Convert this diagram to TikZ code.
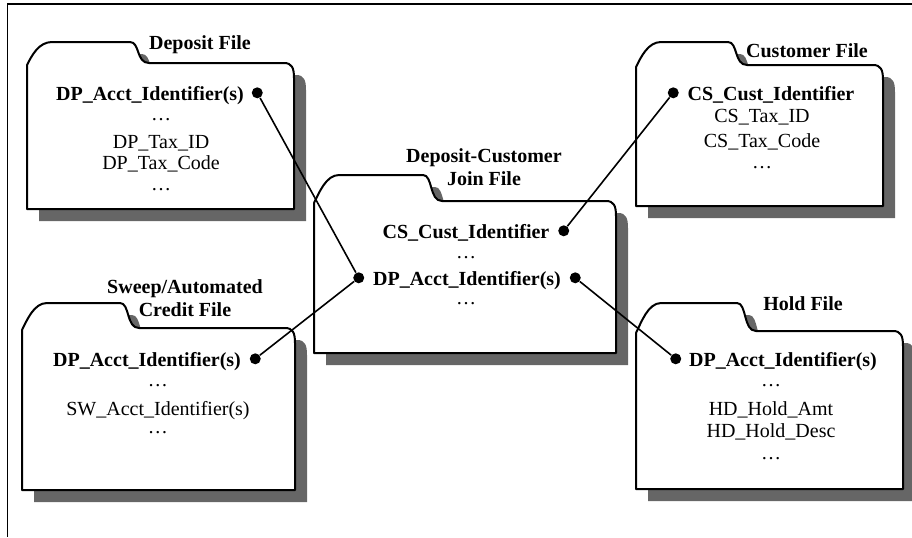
\documentclass[tikz,border=0pt]{standalone}
\usepackage{fontspec}
\setmainfont{Liberation Serif}

% outline of a file folder: left, top, right, bottom, tab end, tab height
\newcommand{\folderoutline}[6]{%
  (#1,#4) -- (#1,#2+2)
  .. controls (#1+5,#2-8) and (#1+12,#2-#6) .. (#1+25,#2-#6)
  -- (#1+#5,#2-#6)
  .. controls (#1+#5+10,#2-#6) and (#1+#5+6,#2) .. (#1+#5+19,#2)
  -- (#3-10,#2)
  .. controls (#3-2,#2) and (#3,#2+5) .. (#3,#2+15)
  -- (#3,#4) -- cycle}
\newcommand{\filefolder}[6]{%
  \fill[folder shadow, shift={(12,12)}] \folderoutline{#1}{#2}{#3}{#4}{#5}{#6};
  \filldraw[folder] \folderoutline{#1}{#2}{#3}{#4}{#5}{#6};}

\begin{document}
\begin{tikzpicture}[x=0.5pt, y=-0.5pt,
  folder/.style={draw=black, fill=white, line width=1pt, line join=round},
  folder shadow/.style={fill=black!60},
  field/.style={anchor=base, inner sep=0pt},
  keyfield/.style={field, font=\bfseries},
  foldertitle/.style={inner sep=0pt, font=\bfseries, align=center},
  dot/.style={circle, fill=black, inner sep=0pt, minimum size=5.5pt},
  link/.style={line width=0.8pt}]

\useasboundingbox (0,0) rectangle (912,537);

% outer frame, only its top and left edges show
\draw[line width=0.9pt] (912,4) -- (7.5,4) -- (7.5,537);

% the five folders
\filefolder{27}{63}{294}{209}{103}{21}     % deposit
\filefolder{314}{201}{616}{353}{109}{26}   % join
\filefolder{636}{65}{883}{206}{92}{23}     % customer
\filefolder{22}{328}{295}{490}{98}{25}     % sweep
\filefolder{636}{331}{903}{489}{101}{28}   % hold

% deposit file
\node[foldertitle, anchor=base] (deptitle) at (200,49) {Deposit File};
\node[keyfield] (depkey) at (150,100) {DP\_Acct\_Identifier(s)};
\foreach \yy/\txt [count=\i] in {120/\ldots, 148/DP\_Tax\_ID, 169/DP\_Tax\_Code, 190/\ldots}
  \node[field] (dep\i) at (161,\yy) {\txt};
\node[dot] (depdot) at ([xshift=6.5pt, yshift=3.6pt]depkey.base east) {};

% join file
\node[foldertitle] (jointitle) at (484,167.5) {Deposit-Customer\\[-0.5pt]Join File};
\node[keyfield] (joincs) at (466,238) {CS\_Cust\_Identifier};
\node[field] (join1) at (466,258) {\ldots};
\node[keyfield] (joindp) at (467,285) {DP\_Acct\_Identifier(s)};
\node[field] (join2) at (466,304) {\ldots};
\node[dot] (joincsdot) at ([xshift=7pt, yshift=3.6pt]joincs.base east) {};
\node[dot] (joindpleft) at ([xshift=-7pt, yshift=3.6pt]joindp.base west) {};
\node[dot] (joindpright) at ([xshift=7pt, yshift=3.6pt]joindp.base east) {};

% customer file
\node[foldertitle, anchor=base] (custitle) at (807,57) {Customer File};
\node[keyfield] (cuskey) at (771,100) {CS\_Cust\_Identifier};
\foreach \yy/\txt [count=\i] in {122/CS\_Tax\_ID, 147/CS\_Tax\_Code, 168/\ldots}
  \node[field] (cus\i) at (762,\yy) {\txt};
\node[dot] (cusdot) at ([xshift=-7pt, yshift=3.6pt]cuskey.base west) {};

% sweep file
\node[foldertitle] (swptitle) at (185,298.5) {Sweep/Automated\\[-0.5pt]Credit File};
\node[keyfield] (swpkey) at (147,366) {DP\_Acct\_Identifier(s)};
\foreach \yy/\txt [count=\i] in {386/\ldots, 415/SW\_Acct\_Identifier(s), 433/\ldots}
  \node[field] (swp\i) at (158,\yy) {\txt};
\node[dot] (swpdot) at ([xshift=7pt, yshift=3.6pt]swpkey.base east) {};

% hold file
\node[foldertitle, anchor=base] (hldtitle) at (803,310) {Hold File};
\node[keyfield] (hldkey) at (783,366) {DP\_Acct\_Identifier(s)};
\foreach \yy/\txt [count=\i] in {386/\ldots, 415/HD\_Hold\_Amt, 437/HD\_Hold\_Desc, 459/\ldots}
  \node[field] (hld\i) at (771,\yy) {\txt};
\node[dot] (hlddot) at ([xshift=-6.5pt, yshift=3.6pt]hldkey.base west) {};

% links between the shared fields
\draw[link] (depdot) -- (joindpleft);
\draw[link] (swpdot) -- (joindpleft);
\draw[link] (joincsdot) -- (cusdot);
\draw[link] (joindpright) -- (hlddot);
\end{tikzpicture}
\end{document}
